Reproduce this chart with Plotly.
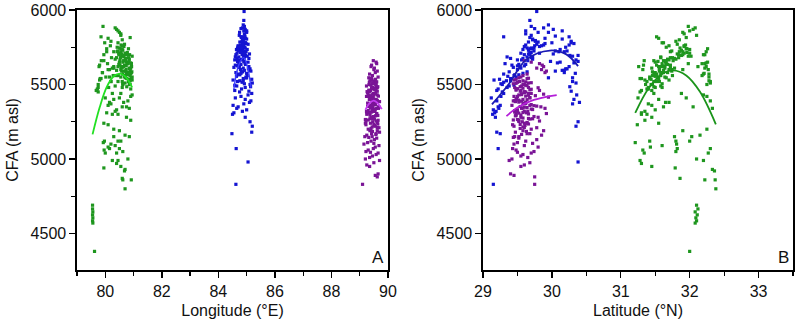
import plotly.graph_objects as go

# ---------------- data ----------------
# Green sites (western region)
green_lon = [79.55, 79.55, 79.56, 79.55, 79.56, 79.55, 79.56, 79.62,
             80.10, 80.25, 80.30, 80.50, 80.90, 80.75, 79.95,
             79.93, 79.97, 80.30, 80.45, 80.55, 80.85, 80.70, 80.20,
             79.96, 80.00, 80.10, 80.35, 80.50, 80.62, 80.80, 80.40, 80.15,
             80.25, 80.40, 80.55, 80.45,
             79.95, 80.60, 80.62, 80.70, 80.68, 80.92, 80.70,
             80.05, 80.40, 80.60, 80.20, 80.80, 80.50, 80.95, 79.75, 80.35, 80.85,
             80.10, 80.65, 80.30, 80.90, 80.55, 80.45, 80.75, 80.00, 80.25, 80.15,
             79.70, 80.60, 80.85, 80.45, 79.85, 80.70, 80.92, 80.55, 80.30, 80.80,
             80.50, 80.65, 80.40, 80.75, 80.05, 80.55, 80.60, 80.45, 80.90, 80.35,
             80.70, 80.95, 80.15, 80.80, 80.65, 80.90, 80.52, 80.75, 80.85, 80.58,
             80.48, 80.62, 80.42, 80.68, 79.80, 80.88, 80.72, 80.93, 80.62, 80.82,
             80.70, 80.25, 79.90, 80.55, 80.82, 80.78, 80.35, 80.88, 80.62, 80.95,
             80.92, 80.45, 79.95, 80.75, 80.10, 80.62, 80.68, 80.38, 80.55, 80.82,
             79.75, 80.20, 80.58, 80.72, 80.85, 80.95, 80.48, 80.92, 80.80, 80.65,
             80.60, 80.10, 79.85, 80.55, 80.50, 80.40, 80.35, 79.92, 80.45, 80.88, 80.55, 80.20,
             80.86, 80.74, 80.90, 80.52, 80.66, 80.58, 80.44, 80.50, 80.56, 80.94,
             80.80, 80.70, 80.88, 80.62, 80.76, 80.60, 80.48, 80.84, 80.72, 80.64,
             80.40, 80.90, 80.68, 80.82, 80.78, 80.60, 80.66, 80.92, 80.56, 80.74,
             80.84, 80.46, 80.70, 80.54, 80.86, 80.42, 80.76, 80.60, 80.88, 80.30,
             79.68, 79.75, 79.82, 79.90, 79.78, 79.86, 79.95, 80.05, 79.98, 80.12,
             80.20, 80.28, 80.15, 80.08, 80.22, 80.30, 80.18, 79.72, 80.02, 79.80]
green_lat = [32.10, 32.12, 32.08, 32.11, 32.09, 32.10, 32.08, 32.00,
             31.24, 31.30, 32.25, 31.90, 31.35, 31.45, 31.55,
             31.21, 31.42, 31.78, 31.80, 32.00, 32.03, 32.15, 31.81,
             31.32, 31.34, 31.43, 31.60, 31.82, 31.80, 32.10, 32.27, 32.30,
             31.28, 31.30, 31.45, 32.20,
             31.79, 31.86, 32.22, 32.33, 32.36, 32.37, 32.38,
             31.30, 31.50, 31.62, 31.40, 32.30, 31.95, 32.20, 31.28, 31.35, 32.33,
             31.45, 31.70, 31.55, 32.25, 31.88, 31.38, 32.05, 31.25, 31.48, 31.65,
             31.45, 31.60, 32.25, 31.52, 31.30, 31.75, 31.50, 31.90, 31.55, 32.22,
             31.65, 31.48, 31.72, 32.20, 31.85, 31.95, 31.92, 31.60, 31.40, 31.58,
             32.30, 31.70, 31.42, 32.28, 31.62, 31.78, 31.52, 32.26, 31.68, 31.98,
             32.00, 31.88, 31.66, 31.82, 31.35, 32.18, 31.56, 32.24, 31.50, 31.75,
             31.92, 31.45, 31.58, 31.64, 31.48, 31.60, 31.80, 31.70, 31.52, 32.02,
             31.55, 32.12, 31.62, 31.68, 32.27, 31.44, 31.72, 31.58, 31.90, 31.96,
             31.50, 31.38, 31.74, 31.66, 32.22, 31.54, 31.84, 31.98, 32.20, 31.62,
             31.85, 31.55, 31.52, 32.10, 31.90, 32.05, 32.08, 31.98, 32.00, 31.95, 31.92, 31.80,
             31.56, 31.64, 32.24, 31.70, 31.58, 31.82, 31.74, 31.86, 31.94, 31.46,
             31.52, 31.66, 32.28, 31.60, 31.48, 31.72, 31.68, 31.54, 31.78, 31.88,
             31.62, 32.21, 31.50, 31.44, 31.96, 32.00, 31.92, 31.66, 31.58, 31.74,
             31.62, 31.50, 31.76, 31.84, 31.90, 31.72, 31.42, 31.56, 31.46, 31.64,
             31.30, 31.36, 31.28, 31.48, 31.26, 31.34, 32.22, 32.26, 31.62, 31.40,
             32.30, 31.46, 31.32, 32.18, 31.58, 32.24, 31.70, 31.38, 32.28, 31.33]
green_cfa = [4690, 4665, 4645, 4625, 4605, 4585, 4570, 4380,
             5230, 5300, 5200, 5190, 5260, 5280, 5240,
             5110, 5120, 5150, 5120, 5120, 5150, 5160, 5100,
             5060, 5040, 5080, 5090, 5070, 5050, 5000, 5040, 5070,
             4990, 4970, 4950, 4990,
             4940, 4870, 4860, 4930, 4920, 4860, 4800,
             5310, 5330, 5350, 5370, 5390, 5410, 5430, 5450, 5320, 5340,
             5360, 5380, 5400, 5420, 5440, 5300, 5350, 5410, 5440, 5380,
             5460, 5480, 5500, 5520, 5540, 5560, 5580, 5600, 5620, 5640,
             5650, 5660, 5680, 5700, 5720, 5740, 5760, 5780, 5470, 5490,
             5510, 5530, 5550, 5570, 5590, 5610, 5630, 5650, 5670, 5690,
             5710, 5730, 5750, 5770, 5530, 5560, 5590, 5620, 5650, 5680,
             5710, 5610, 5580, 5550, 5520, 5640, 5670, 5600, 5570, 5690,
             5540, 5620, 5660, 5580, 5600, 5500, 5630, 5560, 5720, 5740,
             5480, 5520, 5590, 5660, 5610, 5550, 5700, 5640, 5570, 5620,
             5800, 5810, 5820, 5830, 5850, 5870, 5880, 5890, 5860, 5815, 5840, 5790,
             5605, 5625, 5645, 5665, 5685, 5705, 5725, 5745, 5765, 5585,
             5565, 5545, 5525, 5505, 5485, 5615, 5635, 5655, 5675, 5695,
             5595, 5575, 5555, 5535, 5715, 5735, 5755, 5640, 5620, 5600,
             5580, 5560, 5660, 5680, 5700, 5720, 5540, 5520, 5500, 5610,
             5460, 5500, 5540, 5580, 5620, 5660, 5700, 5740, 5780, 5480,
             5520, 5560, 5600, 5640, 5680, 5720, 5760, 5470, 5550, 5630]

# Blue sites (central region)
blue_lon = [84.62, 84.63, 85.05, 84.48, 85.18, 85.20, 85.12, 84.95, 84.50,
            84.55, 85.00, 84.70, 84.90, 85.15, 84.60, 85.05, 84.75, 84.85, 84.52,
            84.95, 85.18, 84.65, 85.10, 84.80,
            84.58, 84.95, 85.12, 84.68, 84.88, 85.02, 84.62, 84.78, 85.08, 84.72,
            84.82, 84.65, 85.20, 84.52, 84.98, 84.70, 85.15, 84.88, 84.60, 85.05,
            85.08, 84.92, 84.76, 85.00, 84.66, 84.86, 85.12, 84.74, 84.94, 84.58,
            85.18, 84.80, 84.55, 84.68, 84.84, 85.10, 84.96, 84.64, 85.14, 84.86,
            84.75, 84.90, 84.62, 84.98, 84.85, 84.70, 84.95, 84.88, 84.80, 84.92,
            84.82, 85.02, 84.66, 84.78, 84.92, 85.05, 84.86, 84.96, 84.74, 85.00,
            84.58, 84.72, 84.94, 84.84, 84.68, 84.88, 84.76, 85.00, 85.08, 84.80,
            84.90, 84.64, 84.82, 84.98, 84.86, 84.70, 84.95, 85.10, 84.60, 84.78,
            84.84, 84.92, 84.74, 84.88, 84.96,
            84.90, 84.95, 84.85, 84.92, 84.88, 84.90, 84.91, 85.00, 84.80, 84.86, 84.75,
            84.86, 84.94, 84.80, 84.90, 84.84, 84.72, 84.96, 84.68, 85.06, 84.82,
            84.76, 84.98, 84.88, 84.92, 84.78, 85.02, 84.70, 84.86, 84.96, 84.66,
            84.90, 84.80, 84.74, 84.92, 85.00, 84.88, 84.82, 84.94, 84.84, 84.90]
blue_lat = [29.15, 29.22, 30.38, 29.25, 29.20, 30.35, 30.38, 29.18, 29.14,
            29.17, 29.15, 29.22, 30.30, 29.20, 29.12, 30.36, 29.28, 29.19, 29.25,
            30.32, 29.30, 29.23, 30.40, 29.26,
            29.20, 29.35, 29.28, 30.30, 29.40, 29.45, 30.18, 29.50, 30.25, 29.32,
            29.22, 29.38, 30.35, 29.16, 29.48, 29.30, 30.05, 29.55, 29.42, 30.12,
            30.28, 29.26, 29.34, 29.95, 29.52, 29.38, 30.20, 29.60, 30.32, 29.45,
            29.24, 29.58, 29.44, 30.38, 29.30, 30.15, 29.62, 29.36, 30.26, 29.50,
            29.65, 29.70, 29.60, 30.10, 29.68, 29.75, 30.00, 29.72, 29.30, 29.62,
            29.72, 30.30, 29.55, 29.66, 30.20, 29.78, 30.28, 29.90, 29.70, 29.95,
            30.35, 29.64, 29.68, 30.05, 29.74, 30.25, 29.66, 30.15, 29.40, 29.70,
            30.38, 29.58, 29.82, 30.32, 29.76, 30.22, 29.64, 30.02, 29.35, 29.88,
            29.68, 30.18, 29.72, 29.85, 30.28,
            29.62, 30.02, 29.88, 29.70, 29.95, 29.68, 29.78, 30.15, 29.75, 30.25, 29.80,
            29.66, 29.74, 29.70, 29.62, 29.80, 29.56, 30.08, 29.50, 30.22, 29.64,
            29.46, 30.30, 29.40, 29.72, 29.68, 30.12, 29.60, 29.90, 30.26, 29.58,
            29.98, 29.52, 29.54, 30.18, 30.34, 29.72, 29.68, 30.05, 29.76, 29.82]
blue_cfa = [4830, 5070, 4980, 5170, 5180, 5220, 5250, 5280, 5300,
            5310, 5330, 5350, 5370, 5390, 5410, 5430, 5450, 5320, 5360,
            5400, 5440, 5340, 5380, 5420,
            5460, 5480, 5500, 5520, 5540, 5560, 5580, 5600, 5620, 5640,
            5470, 5490, 5510, 5530, 5550, 5570, 5590, 5610, 5630, 5650,
            5455, 5505, 5525, 5545, 5565, 5585, 5605, 5625, 5645, 5495,
            5535, 5575, 5615, 5655, 5515, 5595, 5635, 5555, 5485, 5665,
            5660, 5680, 5700, 5720, 5740, 5760, 5780, 5800, 5820, 5840,
            5670, 5690, 5710, 5730, 5750, 5770, 5790, 5810, 5830, 5850,
            5665, 5685, 5705, 5725, 5745, 5765, 5785, 5805, 5675, 5715,
            5695, 5735, 5755, 5775, 5795, 5725, 5745, 5705, 5685, 5765,
            5700, 5720, 5740, 5760, 5780,
            5860, 5870, 5880, 5890, 5900, 5930, 5990, 5860, 5875, 5820, 5850,
            5705, 5725, 5745, 5765, 5785, 5665, 5645, 5625, 5605, 5585,
            5565, 5545, 5525, 5685, 5715, 5735, 5755, 5775, 5695, 5675,
            5655, 5635, 5615, 5595, 5575, 5805, 5815, 5825, 5790, 5710]

# Purple sites (eastern region)
purple_lon = [89.10, 89.62, 89.65, 89.55, 89.35, 89.25, 89.50, 89.70,
              89.20, 89.45, 89.65, 89.30, 89.55, 89.15, 89.40, 89.60, 89.25, 89.70,
              89.35, 89.58, 89.22, 89.48, 89.68, 89.28, 89.52, 89.18, 89.42, 89.62,
              89.38, 89.50, 89.32, 89.45, 89.57,
              89.30, 89.55, 89.20, 89.65, 89.40, 89.25, 89.50, 89.60, 89.35, 89.45,
              89.58, 89.28, 89.48, 89.38, 89.62, 89.33, 89.52, 89.42, 89.68, 89.22,
              89.46, 89.36, 89.56, 89.26, 89.44, 89.66, 89.32, 89.54, 89.40, 89.62,
              89.34, 89.50, 89.24, 89.58, 89.44, 89.40, 89.62, 89.48, 89.30, 89.56,
              89.42, 89.28, 89.64, 89.36, 89.52, 89.20, 89.60, 89.46, 89.70, 89.38,
              89.54, 89.46, 89.32, 89.44, 89.58, 89.36, 89.52, 89.28, 89.48, 89.62,
              89.40, 89.56, 89.64, 89.50, 89.42, 89.30, 89.60, 89.46, 89.52, 89.34,
              89.48, 89.54, 89.44, 89.50, 89.56, 89.46, 89.38, 89.66, 89.24, 89.58,
              89.45, 89.55, 89.50, 89.40, 89.60, 89.48, 89.35, 89.62, 89.52, 89.42, 89.65, 89.58,
              89.22, 89.44, 89.64, 89.34, 89.54, 89.28, 89.48, 89.62, 89.36, 89.50,
              89.26, 89.42, 89.58, 89.46, 89.30, 89.60, 89.38, 89.52, 89.66, 89.32,
              89.56, 89.40, 89.50, 89.62, 89.24, 89.46, 89.34, 89.56, 89.42, 89.60,
              89.52, 89.36, 89.68, 89.44, 89.30, 89.54, 89.48, 89.36, 89.58, 89.44]
purple_lat = [29.75, 29.75, 29.40, 29.45, 29.55, 29.60, 29.68, 29.38,
              29.42, 29.55, 29.70, 29.48, 29.80, 29.45, 29.62, 29.52, 29.85, 29.47,
              29.65, 29.58, 29.74, 29.43, 29.60, 29.50, 29.78, 29.46, 29.68, 29.88,
              29.50, 29.72, 29.44, 29.63, 29.56,
              29.70, 29.45, 29.60, 29.52, 29.80, 29.48, 29.65, 29.56, 29.42, 29.62,
              29.58, 29.50, 29.66, 29.55, 29.46, 29.60, 29.53, 29.64, 29.78, 29.43,
              29.57, 29.72, 29.47, 29.63, 29.50, 29.84, 29.58, 29.44, 29.68, 29.52,
              29.62, 29.48, 29.56, 29.66, 29.45, 29.54, 29.64, 29.74, 29.46, 29.70,
              29.49, 29.60, 29.54, 29.58, 29.61, 29.50, 29.92, 29.64, 29.47, 29.76,
              29.68, 29.44, 29.52, 29.58, 29.82, 29.55, 29.70, 29.60, 29.95, 29.54,
              29.62, 29.48, 29.66, 29.58, 29.46, 29.78, 29.52, 29.88, 29.58, 29.50,
              29.55, 29.60, 29.68, 29.48, 29.70, 29.66, 29.64, 29.90, 29.45, 29.82,
              29.58, 29.90, 29.85, 29.88, 29.82, 29.60, 29.64, 29.92, 29.78, 29.86, 29.55, 29.70,
              29.52, 29.66, 29.48, 29.58, 29.72, 29.54, 29.62, 29.46, 29.68, 29.56,
              29.60, 29.50, 29.64, 29.70, 29.44, 29.66, 29.58, 29.52, 29.62, 29.48,
              29.58, 29.66, 29.54, 29.60, 29.50, 29.74, 29.64, 29.56, 29.80, 29.62,
              29.68, 29.52, 29.60, 29.56, 29.66, 29.70, 29.48, 29.58, 29.64, 29.52]
purple_cfa = [4830, 4880, 4900, 4890, 4950, 4960, 4975, 4990,
              5000, 5020, 5040, 5060, 5080, 5100, 5120, 5140, 5160, 5180,
              5010, 5030, 5050, 5070, 5090, 5110, 5130, 5150, 5170, 5190,
              5045, 5105, 5145, 5185, 5165,
              5200, 5220, 5240, 5260, 5280, 5300, 5320, 5340, 5360, 5380,
              5400, 5420, 5440, 5460, 5480, 5500, 5520, 5540, 5210, 5230,
              5250, 5270, 5290, 5310, 5330, 5350, 5370, 5390, 5410, 5430,
              5450, 5470, 5490, 5510, 5530, 5205, 5245, 5285, 5325, 5365,
              5405, 5445, 5485, 5525, 5225, 5265, 5305, 5345, 5385, 5425,
              5465, 5505, 5545, 5215, 5255, 5295, 5335, 5375, 5415, 5455,
              5495, 5535, 5235, 5275, 5315, 5355, 5395, 5435, 5475, 5515,
              5280, 5320, 5360, 5400, 5440, 5480, 5240, 5340, 5420, 5460,
              5560, 5580, 5600, 5620, 5640, 5660, 5570, 5590, 5610, 5630, 5550, 5650,
              5252, 5272, 5292, 5312, 5332, 5352, 5372, 5392, 5412, 5432,
              5452, 5472, 5492, 5512, 5262, 5302, 5342, 5382, 5422, 5462,
              5502, 5542, 5232, 5212, 5318, 5358, 5398, 5438, 5478, 5518,
              5268, 5308, 5348, 5388, 5428, 5468, 5508, 5190, 5170, 5150]

# Fitted curves
fitA_green_x = [79.55, 79.80, 80.05, 80.30, 80.55, 80.75, 80.95]
fitA_green_y = [5165, 5345, 5482, 5555, 5572, 5545, 5480]
fitA_blue_x = [84.55, 84.72, 84.90, 85.05, 85.15]
fitA_blue_y = [5470, 5630, 5680, 5600, 5480]
fitA_purple_x = [89.20, 89.35, 89.50, 89.65, 89.78]
fitA_purple_y = [5330, 5375, 5392, 5372, 5335]
fitB_blue_x = [29.13, 29.37, 29.63, 29.97, 30.21, 30.38]
fitB_blue_y = [5366, 5500, 5668, 5728, 5702, 5623]
fitB_purple_x = [29.34, 29.50, 29.70, 29.90, 30.07]
fitB_purple_y = [5288, 5345, 5390, 5415, 5428]
fitB_green_x = [31.21, 31.40, 31.60, 31.76, 31.95, 32.15, 32.38]
fitB_green_y = [5309, 5472, 5571, 5595, 5561, 5451, 5233]

# ---------------- style ----------------
C_GREEN = "#1e961e"
C_BLUE = "#1414d2"
C_PURPLE = "#7a1496"
FONT = "Arial, Liberation Sans, sans-serif"
MS = 3.2

fig = go.Figure()


def pts(x, y, color, xa, ya):
    fig.add_trace(go.Scatter(x=x, y=y, mode="markers", xaxis=xa, yaxis=ya,
                             marker=dict(symbol="square", size=MS, color=color, line=dict(width=0)),
                             showlegend=False, hoverinfo="skip"))


def fit(x, y, color, xa, ya, w=1.8):
    fig.add_trace(go.Scatter(x=x, y=y, mode="lines", xaxis=xa, yaxis=ya,
                             line=dict(color=color, width=w, shape="spline"),
                             showlegend=False, hoverinfo="skip"))


# Panel A (longitude)
pts(green_lon, green_cfa, C_GREEN, "x", "y")
pts(blue_lon, blue_cfa, C_BLUE, "x", "y")
pts(purple_lon, purple_cfa, C_PURPLE, "x", "y")
fit(fitA_green_x, fitA_green_y, "#22e022", "x", "y")
fit(fitA_blue_x, fitA_blue_y, "#3c3cff", "x", "y", 1.4)
fit(fitA_purple_x, fitA_purple_y, "#c43cf0", "x", "y")

# Panel B (latitude)
pts(blue_lat, blue_cfa, C_BLUE, "x2", "y2")
pts(purple_lat, purple_cfa, C_PURPLE, "x2", "y2")
pts(green_lat, green_cfa, C_GREEN, "x2", "y2")
fit(fitB_blue_x, fitB_blue_y, "#1a1ab4", "x2", "y2")
fit(fitB_purple_x, fitB_purple_y, "#b41ed8", "x2", "y2")
fit(fitB_green_x, fitB_green_y, "#1a941a", "x2", "y2")

W, H = 796, 321
TICKF = dict(family=FONT, size=16, color="#111111")
TITLEF = dict(family=FONT, size=16, color="#111111")

common_axis = dict(showline=True, linecolor="black", linewidth=1.6, mirror=True,
                   ticks="outside", ticklen=6, tickwidth=1.4, tickcolor="black",
                   showgrid=False, zeroline=False, tickfont=TICKF, fixedrange=True,
                   automargin=False)

yd = [(H - 270) / H, (H - 10) / H]

fig.update_layout(
    template="none",
    width=W, height=H,
    margin=dict(l=0, r=0, t=0, b=0, autoexpand=False),
    paper_bgcolor="white", plot_bgcolor="white",
    xaxis=dict(domain=[77 / W, 388 / W], range=[79, 90], anchor="y",
               tickmode="array", tickvals=[80, 82, 84, 86, 88, 90],
               minor=dict(ticks="outside", ticklen=4, tickwidth=1.2, tickcolor="black", dtick=1, tick0=79, showgrid=False),
               title=dict(text="Longitude (°E)", font=TITLEF, standoff=6),
               **common_axis),
    yaxis=dict(domain=yd, range=[4255, 6000], anchor="x",
               tickmode="array", tickvals=[4500, 5000, 5500, 6000],
               minor=dict(ticks="outside", ticklen=4, tickwidth=1.2, tickcolor="black", dtick=250, tick0=4250, showgrid=False),
               title=dict(text="CFA (m asl)", font=TITLEF, standoff=8),
               **common_axis),
    xaxis2=dict(domain=[483 / W, 793 / W], range=[29, 33.5], anchor="y2",
                tickmode="array", tickvals=[29, 30, 31, 32, 33],
                minor=dict(ticks="outside", ticklen=4, tickwidth=1.2, tickcolor="black", dtick=0.5, tick0=29, showgrid=False),
                title=dict(text="Latitude (°N)", font=TITLEF, standoff=6),
                **common_axis),
    yaxis2=dict(domain=yd, range=[4255, 6000], anchor="x2",
                tickmode="array", tickvals=[4500, 5000, 5500, 6000],
                minor=dict(ticks="outside", ticklen=4, tickwidth=1.2, tickcolor="black", dtick=250, tick0=4250, showgrid=False),
                title=dict(text="CFA (m asl)", font=TITLEF, standoff=8),
                **common_axis),
    annotations=[
        dict(text="A", xref="x domain", yref="y domain", x=0.995, y=0.005,
             xanchor="right", yanchor="bottom", showarrow=False, font=dict(family=FONT, size=17, color="#111111")),
        dict(text="B", xref="x2 domain", yref="y2 domain", x=0.995, y=0.005,
             xanchor="right", yanchor="bottom", showarrow=False, font=dict(family=FONT, size=17, color="#111111")),
    ],
)

# remove the default page margin so the figure sits at the window's top-left corner
fig.write_html("out.html", config={"displayModeBar": False, "staticPlot": True},
               post_script="document.body.style.margin='0';")
